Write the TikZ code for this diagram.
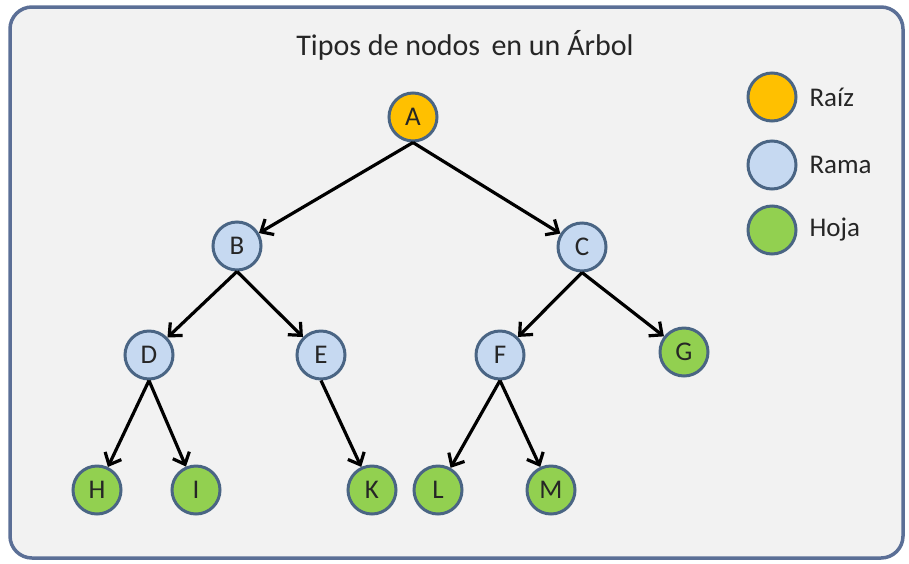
\documentclass[tikz,border=0pt]{standalone}
\usepackage{fontspec}
\setmainfont{Carlito}
\usetikzlibrary{arrows.meta}
\definecolor{bgfill}{HTML}{F2F2F2}
\definecolor{frame}{HTML}{5B6F96}
\definecolor{nodeline}{HTML}{4A6584}
\definecolor{rootfill}{HTML}{FFC000}
\definecolor{branchfill}{HTML}{C6D9F1}
\definecolor{leaffill}{HTML}{92D050}
\definecolor{txt}{HTML}{262626}
\tikzset{
  tnode/.style={circle, draw=nodeline, line width=3pt, minimum size=48pt, inner sep=0pt,
    font=\fontsize{27pt}{27pt}\selectfont, text=txt},
  rootnode/.style={tnode, fill=rootfill},
  branchnode/.style={tnode, fill=branchfill},
  leafnode/.style={tnode, fill=leaffill},
  edge/.style={draw=black, line width=3.2pt, -{Straight Barb[length=10pt,width=18pt,line width=3.2pt]}},
  legtext/.style={anchor=west, font=\fontsize{27pt}{27pt}\selectfont, text=txt}
}
\begin{document}
\begin{tikzpicture}[x=1pt,y=-1pt]
\useasboundingbox (0,0) rectangle (909,563);
\draw[fill=bgfill, draw=frame, line width=3.5pt, rounded corners=22pt] (10,7) rectangle (903,558);
\node[font=\fontsize{30pt}{30pt}\selectfont, text=txt] (title) at (465,45) {Tipos de nodos\hspace{0.15em} en un Árbol};

\node[rootnode] (A) at (413,117) {A};
\node[branchnode] (B) at (237,246) {B};
\node[branchnode] (C) at (582,247) {C};
\node[branchnode] (D) at (149,355) {D};
\node[branchnode] (E) at (321,355) {E};
\node[branchnode] (F) at (500,355) {F};
\node[leafnode] (G) at (684,352) {G};
\node[leafnode] (H) at (97,490) {H};
\node[leafnode] (I) at (196,490) {I};
\node[leafnode] (K) at (372,490) {K};
\node[leafnode] (L) at (438,490) {L};
\node[leafnode] (M) at (551,490) {M};

\draw[edge] (A.south) -- (B);
\draw[edge] (A.south) -- (C);
\draw[edge] (B.south) -- (D);
\draw[edge] (B.south) -- (E);
\draw[edge] (C.south) -- (F);
\draw[edge] (C.south) -- (G);
\draw[edge] (D.south) -- (H);
\draw[edge] (D.south) -- (I);
\draw[edge] (E.south) -- (K);
\draw[edge] (F.south) -- (L);
\draw[edge] (F.south) -- (M);

\node[rootnode] (lr) at (772,97) {};
\node[branchnode] (lb) at (772,165) {};
\node[leafnode] (ll) at (772,230) {};
\node[legtext] (tr) at (806,97) {Raíz};
\node[legtext] (tb) at (806,165) {Rama};
\node[legtext] (tl) at (806,230) {Hoja};
\end{tikzpicture}
\end{document}
